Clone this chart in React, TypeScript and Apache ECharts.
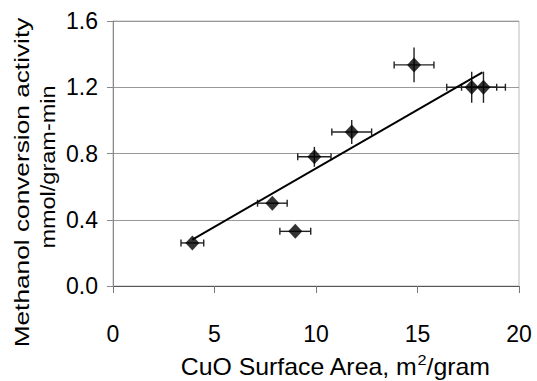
import React, { useEffect, useRef } from "react";
import * as echarts from "echarts";

const surfaceArea = [3.91, 7.85, 8.98, 9.92, 11.76, 14.83, 17.67, 18.25];
const activity = [0.26, 0.5, 0.33, 0.78, 0.93, 1.335, 1.2, 1.2];
const areaErr = [0.56, 0.73, 0.76, 0.82, 0.98, 0.98, 1.23, 1.08];
const activityErr = [0, 0, 0, 0.06, 0.073, 0.105, 0.094, 0.094];
const trendX = [3.91, 18.2];
const trendY = [0.28, 1.29];
const xTicks = [0, 5, 10, 15, 20];
const yTicks = [0.0, 0.4, 0.8, 1.2, 1.6];

const FONT = "'Liberation Sans', Arial, sans-serif";

export default function App() {
  const ref = useRef<HTMLDivElement>(null);
  useEffect(() => {
    if (!ref.current) return;
    const chart = echarts.init(ref.current, undefined, { renderer: "svg" });
    const points = surfaceArea.map((x, i) => [x, activity[i]]);
    const errData = surfaceArea.map((x, i) => [x, activity[i], areaErr[i], activityErr[i]]);
    const trend = trendX.map((x, i) => [x, trendY[i]]);
    chart.setOption({
      animation: false,
      backgroundColor: "#fff",
      grid: {
        left: 113,
        top: 21,
        width: 406,
        height: 265,
        show: true,
        borderColor: "#bbb",
        borderWidth: 1,
        containLabel: false,
      },
      xAxis: {
        type: "value",
        min: xTicks[0],
        max: xTicks[xTicks.length - 1],
        interval: 5,
        axisLine: { show: true, lineStyle: { color: "#555", width: 1 } },
        axisTick: { show: true, inside: false, length: 7, lineStyle: { color: "#777" } },
        splitLine: { show: false },
        axisLabel: { fontSize: 23, color: "#000", margin: 36, fontFamily: FONT },
      },
      yAxis: {
        type: "value",
        min: yTicks[0],
        max: yTicks[yTicks.length - 1],
        interval: 0.4,
        axisLine: { show: true, lineStyle: { color: "#888", width: 1 } },
        axisTick: { show: true, inside: false, length: 6, lineStyle: { color: "#888" } },
        splitLine: { show: true, lineStyle: { color: "#999", width: 1 } },
        axisLabel: {
          fontSize: 23,
          color: "#000",
          margin: 15,
          fontFamily: FONT,
          formatter: (v: number) => v.toFixed(1),
        },
      },
      series: [
        {
          type: "custom",
          z: 1,
          data: errData,
          encode: { x: 0, y: 1 },
          renderItem: (params: any, api: any) => {
            const x = api.value(0);
            const y = api.value(1);
            const ex = api.value(2);
            const ey = api.value(3);
            const l = api.coord([x - ex, y]);
            const r = api.coord([x + ex, y]);
            const style = { stroke: "#222", lineWidth: 1.4 };
            const children: any[] = [
              { type: "line", shape: { x1: l[0], y1: l[1], x2: r[0], y2: r[1] }, style },
              { type: "line", shape: { x1: l[0], y1: l[1] - 3.5, x2: l[0], y2: l[1] + 3.5 }, style },
              { type: "line", shape: { x1: r[0], y1: r[1] - 3.5, x2: r[0], y2: r[1] + 3.5 }, style },
            ];
            if (ey > 0) {
              const t = api.coord([x, y + ey]);
              const b = api.coord([x, y - ey]);
              children.push({ type: "line", shape: { x1: t[0], y1: t[1], x2: b[0], y2: b[1] }, style });
            }
            return { type: "group", children };
          },
        },
        {
          type: "line",
          z: 2,
          data: trend,
          showSymbol: false,
          symbol: "none",
          lineStyle: { color: "#000", width: 2 },
        },
        {
          type: "scatter",
          z: 3,
          data: points,
          symbol: "diamond",
          symbolSize: [14, 15],
          itemStyle: { color: "#000" },
        },
      ],
      graphic: [
        {
          type: "text",
          x: 21,
          y: 182.5,
          rotation: Math.PI / 2,
          scaleX: 1.25,
          style: {
            text: "Methanol conversion activity",
            font: `21px ${FONT}`,
            fill: "#000",
            textAlign: "center",
            textVerticalAlign: "middle",
          },
        },
        {
          type: "text",
          x: 48,
          y: 167,
          rotation: Math.PI / 2,
          scaleX: 1.12,
          style: {
            text: "mmol/gram-min",
            font: `21px ${FONT}`,
            fill: "#000",
            textAlign: "center",
            textVerticalAlign: "middle",
          },
        },
        {
          type: "text",
          x: 335,
          y: 365,
          scaleX: 1.08,
          style: {
            text: "{a|CuO Surface Area, m}{s|2}{a|/gram}",
            fill: "#000",
            textAlign: "center",
            textVerticalAlign: "middle",
            rich: {
              a: { fontSize: 23, lineHeight: 26, fontFamily: FONT, fill: "#000", verticalAlign: "bottom" },
              s: { fontSize: 15, lineHeight: 13, fontFamily: FONT, fill: "#000", verticalAlign: "top" },
            },
          },
        },
      ],
    });
    return () => chart.dispose();
  }, []);
  return (
    <div
      ref={ref}
      style={{ position: "absolute", left: 0, top: 0, width: 537, height: 381 }}
    />
  );
}
